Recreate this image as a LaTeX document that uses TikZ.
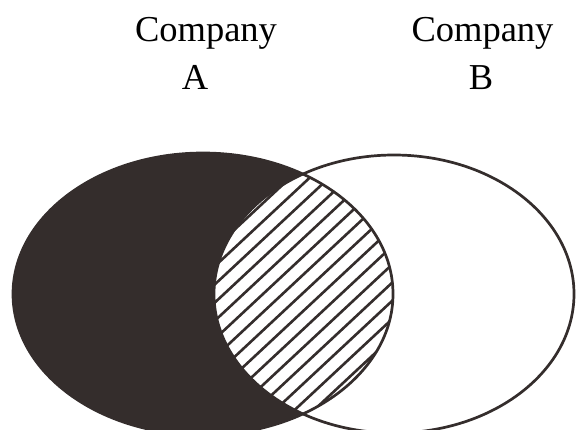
\documentclass[tikz,border=0pt]{standalone}
\usepackage{fontspec}
\setmainfont{Liberation Serif}
\definecolor{ink}{RGB}{52,45,44}
\begin{document}
\begin{tikzpicture}[x=1pt,y=-1pt,
  outline/.style={draw=ink,line width=2.7pt},
  hatchline/.style={draw=ink,line width=2.6pt},
  label/.style={anchor=base,inner sep=0pt,font=\fontsize{36.5}{44}\selectfont}]
\useasboundingbox (0,0) rectangle (577,430);
\clip (0,0) rectangle (577,430);
% Company A (filled)
\fill[ink] (203,294) ellipse [x radius=190,y radius=141];
% intersection: white with hatching
\begin{scope}
  \clip (203,294) ellipse [x radius=190,y radius=141];
  \clip (394,294) ellipse [x radius=180,y radius=139];
  \fill[white] (0,0) rectangle (577,430);
  \foreach \k in {-16,...,16}
    \draw[hatchline] ({302+\k*19.5-260},{294+260*0.9325}) -- ({302+\k*19.5+260},{294-260*0.9325});
\end{scope}
% outlines
\draw[outline] (394,294) ellipse [x radius=180,y radius=139];
\draw[outline] (203,294) ellipse [x radius=190,y radius=141];
% labels
\node[label] (tA1) at (206,42) {Company};
\node[label] (tA2) at (195,90) {A};
\node[label] (tB1) at (482.5,42) {Company};
\node[label] (tB2) at (481,90) {B};
\end{tikzpicture}
\end{document}
